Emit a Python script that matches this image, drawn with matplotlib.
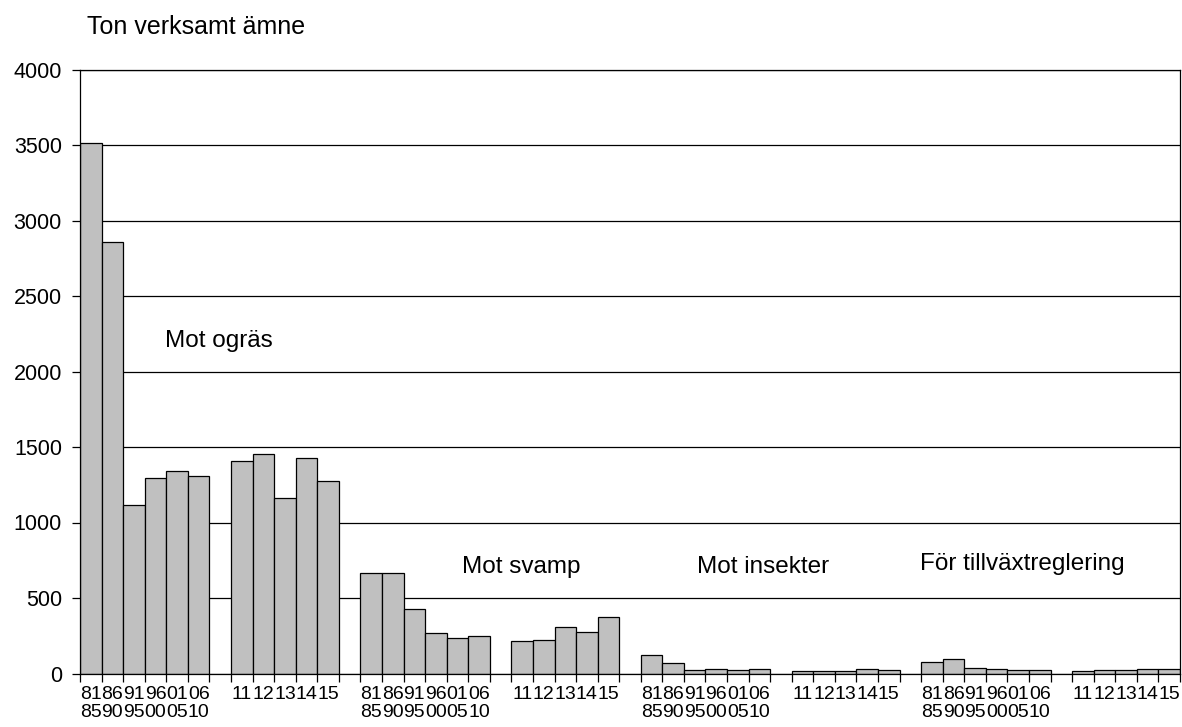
import numpy as np
import matplotlib
matplotlib.use('Agg')
import matplotlib.pyplot as plt

plt.rcParams['font.family'] = ['Liberation Sans', 'DejaVu Sans']

# data (ton verksamt ämne)
periods = ['81\n85', '86\n90', '91\n95', '96\n00', '01\n05', '06\n10']
years = ['11', '12', '13', '14', '15']
groups = ['Mot ogräs', 'Mot svamp', 'Mot insekter', 'För tillväxtreglering']

ograss_period = [3515, 2860, 1115, 1295, 1340, 1305]
ograss_year = [1410, 1455, 1165, 1430, 1275]
svamp_period = [665, 667, 426, 269, 236, 249]
svamp_year = [214, 221, 311, 276, 375]
insekter_period = [123, 72, 23, 30, 21, 28]
insekter_year = [15, 19, 19, 28, 21]
tillvaxt_period = [78, 94, 35, 28, 21, 21]
tillvaxt_year = [19, 21, 21, 28, 28]

series = [(ograss_period, ograss_year), (svamp_period, svamp_year),
          (insekter_period, insekter_year), (tillvaxt_period, tillvaxt_year)]

# build the category axis: each block followed by one empty slot
values, labels = [], []
for i, (per, yr) in enumerate(series):
    values += per + [np.nan]
    labels += periods + ['']
    values += yr
    labels += years
    if i < len(series) - 1:
        values += [np.nan]
        labels += ['']
x = np.arange(len(values))

fig = plt.figure(figsize=(11.82, 7.27), dpi=100)
ax = fig.add_axes([80 / 1182, (727 - 673.5) / 727, 1100 / 1182, 604 / 727])

ax.set_axisbelow(True)
ax.yaxis.grid(True, color='black', linewidth=0.9)
ax.bar(x, values, width=1.0, color='#c0c0c0', edgecolor='black', linewidth=0.9)

ax.set_xlim(-0.5, len(values) - 0.5)
ax.set_ylim(0, 4000)
ax.set_yticks(np.arange(0, 4001, 500))
ax.tick_params(axis='y', direction='out', length=6, width=0.9, labelsize=15.5, pad=7)

# tick marks at every slot boundary, labels centred under the bars
ax.set_xticks(np.arange(-0.5, len(values), 1.0))
ax.set_xticklabels([])
ax.set_xticks(x, minor=True)
ax.set_xticklabels(labels, minor=True, fontsize=14, linespacing=1.05)
ax.tick_params(axis='x', which='major', direction='out', length=6, width=0.9)
ax.tick_params(axis='x', which='minor', length=0, pad=9)

for sp in ax.spines.values():
    sp.set_linewidth(0.9)

ax.text(3.45, 2200, groups[0], fontsize=17.5, va='center')
ax.text(17.2, 705, groups[1], fontsize=17.5, va='center')
ax.text(28.1, 705, groups[2], fontsize=17.5, va='center')
ax.text(38.45, 725, groups[3], fontsize=17.5, va='center')

fig.text(87 / 1182, 1 - 27 / 727, 'Ton verksamt ämne', fontsize=18, va='center')

fig.savefig('out.png', dpi=100)
